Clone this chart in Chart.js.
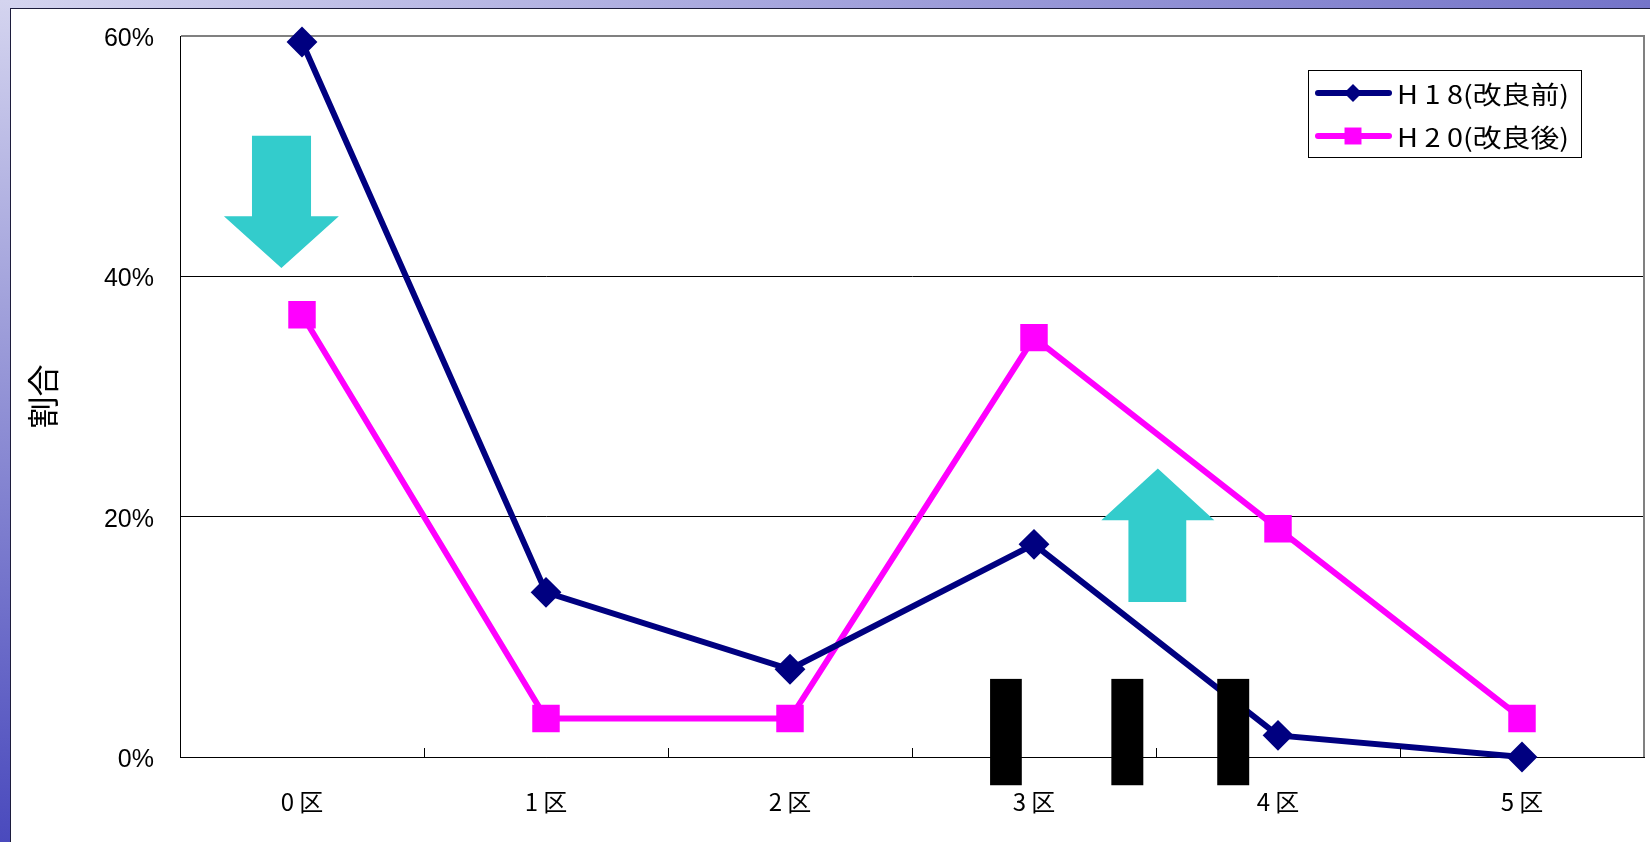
<!DOCTYPE html>
<html>
<head>
<meta charset="utf-8">
<script src="https://cdn.jsdelivr.net/npm/chart.js@4/dist/chart.umd.min.js"></script>
<style>
  html, body { margin: 0; padding: 0; }
  body { width: 1650px; height: 842px; position: relative; overflow: hidden; background: #fff; }
  #topband { position: absolute; left: 0; top: 0; width: 1650px; height: 8px;
    background: linear-gradient(to right, #d4d4ef, #a8a8de 45%, #7474c9); }
  #leftband { position: absolute; left: 0; top: 0; width: 10px; height: 842px;
    background: linear-gradient(to bottom, #d4d4ef, #9c9cd9 40%, #4a4abd); }
  #panel { position: absolute; left: 10px; top: 8px; right: 0; bottom: 0; background: #fff;
    border-left: 1px solid #1c1c3c; border-top: 1px solid #1c1c3c; }
  #chart { position: absolute; left: 0; top: 0; }
</style>
</head>
<body>
<div id="topband"></div>
<div id="leftband"></div>
<div id="panel"></div>
<canvas id="chart" width="1650" height="842"></canvas>
<script>
// data (percent)
const categories = ['0 区', '1 区', '2 区', '3 区', '4 区', '5 区'];
const h18 = [59.5, 13.7, 7.3, 17.7, 1.8, 0];
const h20 = [36.8, 3.2, 3.2, 34.9, 19.0, 3.2];
const yTicks = [0, 20, 40, 60];
const seriesNames = ['H 1 8(改良前)', 'H 2 0(改良後)'];

const NAVY = '#000080';
const PINK = '#ff00ff';
const CYAN = '#33cccc';

// decorations in scale units: x = category index, y = percent
const downArrow = { shaft: [-0.205, 0.037], head: [-0.32, 0.151], top: 51.7, neck: 45.0, tip: 40.7 };
const upArrow = { shaft: [3.387, 3.624], head: [3.276, 3.739], bottom: 12.9, neck: 19.7, tip: 24.0 };
const blackBars = [[2.82, 2.95], [3.317, 3.448], [3.751, 3.882]];
const barTop = 6.5, barBottom = -2.35;

function drawArrow(ctx, xs, ys, a, dir) {
  const sx0 = xs.getPixelForValue(a.shaft[0]), sx1 = xs.getPixelForValue(a.shaft[1]);
  const hx0 = xs.getPixelForValue(a.head[0]), hx1 = xs.getPixelForValue(a.head[1]);
  const mid = (hx0 + hx1) / 2;
  const end = ys.getPixelForValue(dir > 0 ? a.bottom : a.top);
  const neck = ys.getPixelForValue(a.neck);
  const tip = ys.getPixelForValue(a.tip);
  ctx.beginPath();
  ctx.moveTo(sx0, end);
  ctx.lineTo(sx1, end);
  ctx.lineTo(sx1, neck);
  ctx.lineTo(hx1, neck);
  ctx.lineTo(mid, tip);
  ctx.lineTo(hx0, neck);
  ctx.lineTo(sx0, neck);
  ctx.closePath();
  ctx.fillStyle = CYAN;
  ctx.fill();
}

const decor = {
  id: 'decor',
  beforeDatasetsDraw(chart) {
    const { ctx, scales: { x, y } } = chart;
    ctx.save();
    drawArrow(ctx, x, y, downArrow, -1);
    drawArrow(ctx, x, y, upArrow, 1);
    ctx.restore();
  },
  afterDatasetsDraw(chart) {
    const { ctx, chartArea: a, scales: { x, y } } = chart;
    ctx.save();
    // plot area right edge
    ctx.strokeStyle = '#808080';
    ctx.lineWidth = 2;
    ctx.beginPath();
    ctx.moveTo(a.right, a.top - 1);
    ctx.lineTo(a.right, a.bottom);
    ctx.stroke();
    // inside tick marks between categories
    ctx.strokeStyle = '#000';
    ctx.lineWidth = 1;
    for (let i = 1; i < categories.length; i++) {
      const px = Math.round(x.getPixelForValue(i - 0.5)) + 0.5;
      ctx.beginPath();
      ctx.moveTo(px, a.bottom);
      ctx.lineTo(px, a.bottom - 9);
      ctx.stroke();
    }
    // black blocks
    ctx.fillStyle = '#000';
    const t = y.getPixelForValue(barTop), b = y.getPixelForValue(barBottom);
    blackBars.forEach(([l, r]) => {
      const x0 = x.getPixelForValue(l), x1 = x.getPixelForValue(r);
      ctx.fillRect(x0, t, x1 - x0, b - t);
    });
    // legend
    const box = { left: 1308, top: 70, right: 1581, bottom: 157 };
    ctx.fillStyle = '#fff';
    ctx.fillRect(box.left, box.top, box.right - box.left, box.bottom - box.top);
    ctx.strokeStyle = '#000';
    ctx.lineWidth = 1;
    ctx.strokeRect(box.left + 0.5, box.top + 0.5, box.right - box.left, box.bottom - box.top);
    chart.data.datasets.forEach((ds, i) => {
      const cy = 93 + i * 43;
      ctx.strokeStyle = ds.borderColor;
      ctx.lineWidth = 6;
      ctx.lineCap = 'round';
      ctx.beginPath();
      ctx.moveTo(1318, cy);
      ctx.lineTo(1389, cy);
      ctx.stroke();
      ctx.fillStyle = ds.backgroundColor;
      Chart.helpers.drawPoint(ctx, {
        pointStyle: ds.pointStyle,
        radius: ds.pointStyle === 'rect' ? 12 : 9,
        borderWidth: 0,
        rotation: 0
      }, 1353, cy);
      ctx.fillStyle = '#000';
      ctx.font = '25px "Noto Sans CJK JP"';
      ctx.textBaseline = 'middle';
      const w = ctx.measureText(ds.label).width;
      ctx.save();
      ctx.translate(1397, cy + 1);
      ctx.scale(172 / w, 1);
      ctx.fillText(ds.label, 0, 0);
      ctx.restore();
    });
    ctx.restore();
  }
};

new Chart(document.getElementById('chart'), {
  type: 'line',
  data: {
    labels: categories,
    datasets: [
      {
        label: seriesNames[0],
        data: h18,
        borderColor: NAVY,
        backgroundColor: NAVY,
        borderWidth: 6,
        tension: 0,
        pointStyle: 'rectRot',
        pointRadius: 14,
        pointBorderWidth: 2,
        pointBorderColor: NAVY,
        pointBackgroundColor: NAVY,
        clip: false
      },
      {
        label: seriesNames[1],
        data: h20,
        borderColor: PINK,
        backgroundColor: PINK,
        borderWidth: 6,
        tension: 0,
        pointStyle: 'rect',
        pointRadius: 18,
        pointBorderWidth: 2,
        pointBorderColor: PINK,
        pointBackgroundColor: PINK,
        clip: false
      }
    ]
  },
  options: {
    responsive: false,
    animation: false,
    layout: { autoPadding: false, padding: { top: 36, right: 6, bottom: 0, left: 0 } },
    plugins: {
      legend: { display: false },
      tooltip: { enabled: false }
    },
    scales: {
      x: {
        offset: true,
        grid: { display: false },
        border: { display: true, color: '#000', width: 1 },
        ticks: {
          color: '#000',
          font: { family: '"Noto Sans CJK JP"', size: 24 },
          padding: 22,
          maxRotation: 0
        },
        afterFit: s => { s.height = 85; s.paddingLeft = 0; s.paddingRight = 0; }
      },
      y: {
        min: 0,
        max: 60,
        afterBuildTicks: s => { s.ticks = yTicks.map(v => ({ value: v })); },
        grid: {
          drawTicks: false,
          color: c => (c.tick && c.tick.value === 60 ? '#808080' : '#000'),
          lineWidth: c => (c.tick && c.tick.value === 60 ? 2 : 1)
        },
        border: { display: true, color: '#000', width: 1 },
        ticks: {
          color: '#000',
          font: { family: '"Liberation Sans", Arial', size: 25 },
          padding: 26,
          labelOffset: 3,
          callback: v => v + '%'
        },
        title: {
          display: true,
          text: '割合',
          color: '#000',
          font: { family: '"Noto Sans CJK JP"', size: 32 },
          padding: { top: 24, bottom: 0 }
        },
        afterFit: s => { s.width = 180; s.paddingTop = 0; s.paddingBottom = 0; }
      }
    }
  },
  plugins: [decor]
});
</script>
</body>
</html>
